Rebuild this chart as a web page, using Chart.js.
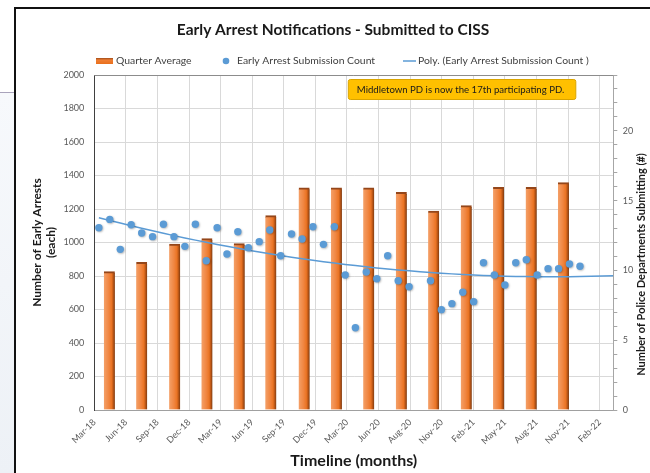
<!DOCTYPE html>
<html>
<head>
<meta charset="utf-8">
<script src="https://cdn.jsdelivr.net/npm/chart.js@4.4.1/dist/chart.umd.min.js"></script>
<style>
    html, body { margin: 0; padding: 0; background: #fff; }
    body { width: 650px; height: 473px; position: relative; overflow: hidden; }
    #side { position: absolute; left: 0; top: 92px; width: 14px; height: 381px; background: linear-gradient(#f7f9fc, #edf1f6); border-top: 1px solid #a9a3bb; }
    #frame { position: absolute; left: 14px; top: 7px; right: 0; bottom: 0; border-left: 2px solid #111; border-top: 2px solid #111; }
    #wrap { position: absolute; left: 0; top: 0; width: 634px; height: 464px; }
</style>
</head>
<body>
<div id="side"></div>
<div id="frame"><div id="wrap"><canvas id="myChart"></canvas></div></div>
<script>

// monthly submission counts (plotted mid-month)
const monthLabels = [
    '2018-03', '2018-04', '2018-05', '2018-06', '2018-07', '2018-08', '2018-09', '2018-10', '2018-11', '2018-12',
    '2019-01', '2019-02', '2019-03', '2019-04', '2019-05', '2019-06', '2019-07', '2019-08', '2019-09', '2019-10', '2019-11', '2019-12',
    '2020-01', '2020-02', '2020-03', '2020-04', '2020-05', '2020-06', '2020-07', '2020-08', '2020-09', '2020-10', '2020-11', '2020-12',
    '2021-01', '2021-02', '2021-03', '2021-04', '2021-05', '2021-06', '2021-07', '2021-08', '2021-09', '2021-10', '2021-11', '2021-12'
]
const submissionCounts = [
    1088, 1138, 959, 1106, 1057, 1035, 1109, 1035, 977, 1109,
    891, 1088, 931, 1064, 969, 1005, 1075, 921, 1051, 1021, 1094, 989,
    1094, 806, 491, 824, 784, 921, 772, 736, null, 772, 599, 635,
    703, 647, 879, 806, 746, 879, 897, 806, 844, 844, 872, 858
]

// quarter averages
const quarterDates = [
    '2018-04-14', '2018-07-15', '2018-10-17', '2019-01-17', '2019-04-19', '2019-07-18', '2019-10-21', '2020-01-21',
    '2020-04-22', '2020-07-24', '2020-10-24', '2021-01-25', '2021-04-27', '2021-07-29', '2021-10-29'
]
const quarterAverages = [826, 882, 991, 1023, 993, 1160, 1327, 1327, 1327, 1300, 1188, 1220, 1330, 1330, 1357]

const xTickLabels = [
    'Mar-18', 'Jun-18', 'Sep-18', 'Dec-18', 'Mar-19', 'Jun-19', 'Sep-19', 'Dec-19', 'Mar-20',
    'Jun-20', 'Aug-20', 'Nov-20', 'Feb-21', 'May-21', 'Aug-21', 'Nov-21', 'Feb-22'
]
const leftTicks = [0, 200, 400, 600, 800, 1000, 1200, 1400, 1600, 1800, 2000]
const rightTicks = [0, 5, 10, 15, 20]

const noteText = 'Middletown PD is now the 17th participating PD.'
const rightTitle = 'Number of Police Departments Submitting (#)'


const dayNum = (s) => {
    const p = s.split('-')
    return Date.UTC(+p[0], +p[1] - 1, p[2] ? +p[2] : 15) / 86400000
}

const axisStart = dayNum('2018-03-02')
const axisEnd = axisStart + 1479
const tickStep = 90

const dotPoints = monthLabels.map((m, i) => ({ x: dayNum(m), y: submissionCounts[i] }))
const barPoints = quarterDates.map((d, i) => ({ x: dayNum(d), y: quarterAverages[i] }))

// least squares 2nd order polynomial, like the Excel "Poly." trendline
const polyFit = (pts) => {
    const x0 = pts[0].x
    const S = [0, 0, 0, 0, 0], T = [0, 0, 0]
    pts.forEach(p => {
        const t = (p.x - x0) / 100
        for (let k = 0; k < 5; k++) S[k] += Math.pow(t, k)
        for (let k = 0; k < 3; k++) T[k] += Math.pow(t, k) * p.y
    })
    const A = [[S[0], S[1], S[2], T[0]], [S[1], S[2], S[3], T[1]], [S[2], S[3], S[4], T[2]]]
    for (let i = 0; i < 3; i++) {
        for (let j = i + 1; j < 3; j++) {
            const f = A[j][i] / A[i][i]
            for (let k = i; k < 4; k++) A[j][k] -= f * A[i][k]
        }
    }
    const c = [0, 0, 0]
    for (let i = 2; i >= 0; i--) {
        let s = A[i][3]
        for (let k = i + 1; k < 3; k++) s -= A[i][k] * c[k]
        c[i] = s / A[i][i]
    }
    return (x) => { const t = (x - x0) / 100; return c[0] + c[1] * t + c[2] * t * t }
}

const validDots = dotPoints.filter(p => p.y !== null)
const trend = polyFit(validDots)
const trendPoints = dotPoints.map(p => ({ x: p.x, y: trend(p.x) }))
trendPoints.push({ x: axisEnd, y: trend(axisEnd) })


const barFill = (context) => {
    const chart = context.chart
    const xs = chart.scales && chart.scales.x
    if (context.dataIndex === undefined || !xs || !isFinite(xs.left)) return '#ed7d31'
    const px = xs.getPixelForValue(barPoints[context.dataIndex].x)
    const g = chart.ctx.createLinearGradient(px - 5.5, 0, px + 5.5, 0)
    g.addColorStop(0, '#f4a068')
    g.addColorStop(0.45, '#f08540')
    g.addColorStop(0.7, '#ea7424')
    g.addColorStop(0.82, '#c65c18')
    g.addColorStop(1, '#7d3a10')
    return g
}

const dotShadow = {
    id: 'dotShadow',
    beforeDatasetDraw(chart, args) {
        if (args.index !== 1) return
        const ctx = chart.ctx
        ctx.save()
        ctx.shadowColor = 'rgba(0,0,0,0.28)'
        ctx.shadowBlur = 2
        ctx.shadowOffsetX = 0.8
        ctx.shadowOffsetY = 0.8
    },
    afterDatasetDraw(chart, args) {
        if (args.index !== 1) return
        chart.ctx.restore()
    }
}

const extras = {
    id: 'extras',
    afterDraw(chart) {
        const { ctx, chartArea: ca } = chart
        ctx.save()

        // plot area top border
        ctx.strokeStyle = '#8c8c8c'
        ctx.lineWidth = 1
        ctx.beginPath()
        ctx.moveTo(ca.left, ca.top + 0.5)
        ctx.lineTo(ca.right, ca.top + 0.5)
        ctx.stroke()

        // legend
        const ds = chart.data.datasets
        const ly = ca.top - 14
        ctx.font = '10.4px Lato'
        ctx.textBaseline = 'middle'
        ctx.textAlign = 'left'

        let g = ctx.createLinearGradient(0, ly - 3, 0, ly + 3)
        g.addColorStop(0, '#a04c1a')
        g.addColorStop(0.35, '#ef7e33')
        g.addColorStop(1, '#e96f1c')
        ctx.fillStyle = g
        ctx.fillRect(ca.left + 1.7, ly - 3, 17, 6)
        ctx.fillStyle = '#404040'
        ctx.fillText(ds[0].label, ca.left + 21.7, ly)

        ctx.fillStyle = '#5b9bd5'
        ctx.beginPath()
        ctx.arc(ca.left + 131.7, ly, 3.3, 0, Math.PI * 2)
        ctx.fill()
        ctx.fillStyle = '#404040'
        ctx.fillText(ds[1].label, ca.left + 142.7, ly)

        ctx.strokeStyle = '#5b9bd5'
        ctx.lineWidth = 1.5
        ctx.beginPath()
        ctx.moveTo(ca.left + 308.7, ly)
        ctx.lineTo(ca.left + 321.7, ly)
        ctx.stroke()
        ctx.fillStyle = '#404040'
        ctx.fillText(ds[2].label, ca.left + 323.7, ly)

        // note box
        const bx = ca.left + 254, by = ca.top + 4.5, bw = 227.5, bh = 20
        ctx.fillStyle = '#ffc000'
        ctx.strokeStyle = '#d9a400'
        ctx.lineWidth = 1
        ctx.beginPath()
        ctx.roundRect(bx, by, bw, bh, 2)
        ctx.fill()
        ctx.stroke()
        ctx.fillStyle = '#1a1a1a'
        ctx.font = '9.6px Lato'
        ctx.fillText(noteText, bx + 8.5, by + bh / 2 + 0.5)

        // right axis title, reading bottom to top like Excel
        ctx.translate(chart.width - 9, (ca.top + ca.bottom) / 2 + 22)
        ctx.rotate(-Math.PI / 2)
        ctx.textAlign = 'center'
        ctx.fillStyle = '#1a1a1a'
        ctx.font = 'bold 11px Lato'
        ctx.fillText(rightTitle, 0, 0)

        ctx.restore()
    }
}


const tickFont = { family: 'Lato', size: 9 }
const gridColor = '#d9d9d9'

const config = {
    type: 'bar',
    data: {
        datasets: [
            {
                type: 'bar',
                label: 'Quarter Average',
                data: barPoints,
                backgroundColor: barFill,
                borderColor: '#94461a',
                borderWidth: { top: 2, left: 0, right: 0, bottom: 0 },
                borderSkipped: 'start',
                barThickness: 11,
                order: 3
            },
            {
                type: 'line',
                label: 'Early Arrest Submission Count',
                data: dotPoints,
                showLine: false,
                pointRadius: 3.7,
                pointBackgroundColor: '#5b9bd5',
                pointBorderWidth: 0,
                order: 1
            },
            {
                type: 'line',
                label: 'Poly. (Early Arrest Submission Count )',
                data: trendPoints,
                borderColor: '#5b9bd5',
                borderWidth: 1.5,
                pointRadius: 0,
                tension: 0,
                fill: false,
                order: 2
            }
        ]
    },
    options: {
        responsive: true,
        maintainAspectRatio: false,
        animation: false,
        layout: { padding: 0 },
        plugins: {
            legend: { display: false },
            tooltip: { enabled: false },
            title: {
                display: true,
                text: 'Early Arrest Notifications - Submitted to CISS',
                color: '#1a1a1a',
                font: { family: 'Lato', size: 15.5, weight: 'bold' },
                padding: { top: 11.4, bottom: 36 }
            }
        },
        scales: {
            x: {
                type: 'linear',
                min: axisStart,
                max: axisEnd,
                offset: false,
                afterBuildTicks: (scale) => {
                    scale.ticks = xTickLabels.map((l, i) => ({ value: axisStart + i * tickStep }))
                },
                afterFit: (scale) => { scale.height = 63 },
                ticks: {
                    autoSkip: false,
                    minRotation: 45,
                    maxRotation: 45,
                    padding: 3,
                    color: '#595959',
                    font: tickFont,
                    callback: (v, i) => xTickLabels[i]
                },
                grid: { color: gridColor, offset: false, tickLength: 4, tickColor: 'transparent' },
                border: { color: '#a0a0a0' },
                title: {
                    display: true,
                    text: 'Timeline (months)',
                    color: '#1a1a1a',
                    font: { family: 'Lato', size: 16, weight: 'bold' },
                    padding: { top: 0, bottom: 2.5 }
                }
            },
            y: {
                type: 'linear',
                position: 'left',
                min: 0,
                max: 2000,
                afterBuildTicks: (scale) => {
                    scale.ticks = leftTicks.map(v => ({ value: v }))
                },
                afterFit: (scale) => { scale.width = 78.3 },
                ticks: { padding: 6, color: '#595959', font: tickFont, callback: (v) => String(v) },
                grid: { color: gridColor, tickLength: 4, tickColor: 'transparent' },
                border: { color: '#404040' },
                title: {
                    display: true,
                    text: ['Number of Early Arrests', '(each)'],
                    color: '#1a1a1a',
                    font: { family: 'Lato', size: 12, weight: 'bold' },
                    padding: { top: 13.8, bottom: 0 }
                }
            },
            y1: {
                type: 'linear',
                position: 'right',
                display: true,
                min: 0,
                max: 24,
                afterBuildTicks: (scale) => {
                    const t = []
                    for (let v = 0; v <= 24; v++) t.push({ value: v })
                    scale.ticks = t
                },
                afterFit: (scale) => { scale.width = 36.7 },
                ticks: {
                    autoSkip: false,
                    padding: 5.5,
                    color: '#595959',
                    font: tickFont,
                    callback: (v) => rightTicks.includes(v) ? String(v) : ''
                },
                grid: { drawOnChartArea: false, tickLength: 4, tickColor: '#a6a6a6' },
                border: { color: '#a6a6a6' },
                title: { display: false }
            }
        }
    },
    plugins: [dotShadow, extras]
}

const myChart = new Chart(document.getElementById('myChart'), config)

</script>
</body>
</html>
